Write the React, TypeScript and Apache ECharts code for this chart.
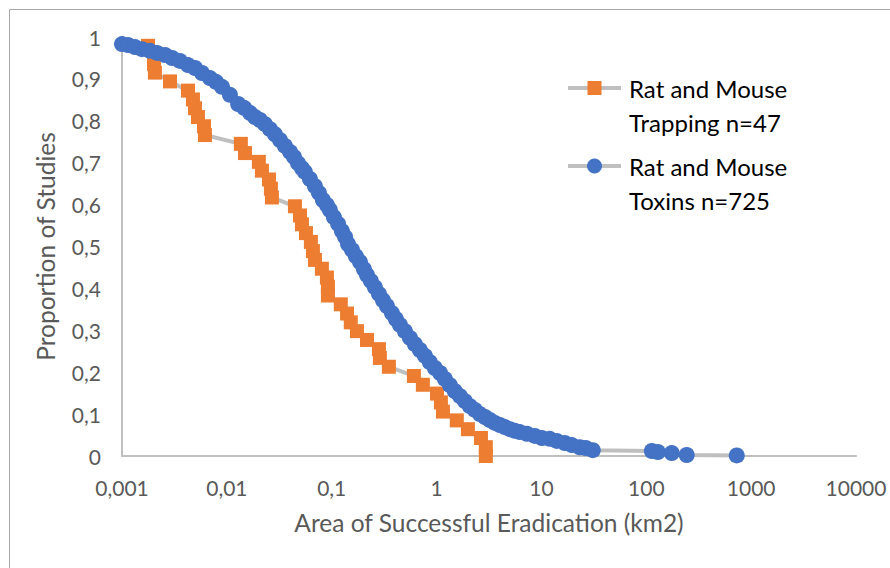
import React, { useEffect, useRef } from "react";
import * as echarts from "echarts";

// ---- Data ----
const seriesNames = ["Rat and Mouse Trapping n=47", "Rat and Mouse Toxins n=725"];
const legendLines = [
  ["Rat and Mouse", "Trapping n=47"],
  ["Rat and Mouse", "Toxins n=725"],
];

const trappingArea = [
  0.00177, 0.00202, 0.00202, 0.00206, 0.00287, 0.00426, 0.00475, 0.00497, 0.0053, 0.00605,
  0.00618, 0.0136, 0.0149, 0.0202, 0.0216, 0.0252, 0.0263, 0.0269, 0.0446, 0.0498,
  0.052, 0.0568, 0.0633, 0.0662, 0.0692, 0.0806, 0.09, 0.092, 0.092, 0.122,
  0.14, 0.152, 0.174, 0.217, 0.282, 0.288, 0.351, 0.608, 0.74, 1.01,
  1.1, 1.15, 1.56, 1.99, 2.65, 2.95, 2.95,
];
const trappingProportion = [
  0.979, 0.957, 0.936, 0.915, 0.894, 0.872, 0.851, 0.83, 0.809, 0.787,
  0.766, 0.745, 0.723, 0.702, 0.681, 0.66, 0.638, 0.617, 0.596, 0.574,
  0.553, 0.532, 0.511, 0.489, 0.468, 0.447, 0.426, 0.404, 0.383, 0.362,
  0.34, 0.319, 0.298, 0.277, 0.255, 0.234, 0.213, 0.191, 0.17, 0.149,
  0.128, 0.106, 0.085, 0.064, 0.043, 0.021, 0.0,
];

const toxinsArea = [
  0.001, 0.00114, 0.00133, 0.00155, 0.00185, 0.00216, 0.00257, 0.003, 0.00357, 0.00426,
  0.00497, 0.00579, 0.0069, 0.00787, 0.00898, 0.0107, 0.0128, 0.0146, 0.0166, 0.0185,
  0.0207, 0.0231, 0.0258, 0.0287, 0.0321, 0.0358, 0.04, 0.0436, 0.0476, 0.052,
  0.0555, 0.062, 0.0692, 0.0755, 0.0824, 0.09, 0.0961, 0.105, 0.115, 0.125,
  0.134, 0.143, 0.156, 0.17, 0.186, 0.203, 0.217, 0.236, 0.258, 0.282,
  0.308, 0.336, 0.375, 0.409, 0.447, 0.499, 0.557, 0.621, 0.693, 0.774,
  0.863, 0.963, 1.08, 1.2, 1.34, 1.49, 1.67, 1.86, 2.08, 2.32,
  2.59, 2.89, 3.22, 3.6, 4.01, 4.48, 5.0, 5.58, 6.22, 7.26,
  8.65, 10.1, 12.0, 14.0, 16.7, 19.5, 23.2, 26.5, 30.9, 113,
  129, 175, 243, 729,
];
const toxinsProportion = [
  0.983, 0.981, 0.976, 0.971, 0.967, 0.962, 0.957, 0.95, 0.943, 0.933,
  0.926, 0.914, 0.902, 0.893, 0.881, 0.862, 0.84, 0.831, 0.819, 0.809,
  0.802, 0.792, 0.78, 0.768, 0.754, 0.74, 0.726, 0.714, 0.699, 0.687,
  0.678, 0.661, 0.644, 0.628, 0.611, 0.599, 0.587, 0.57, 0.554, 0.537,
  0.523, 0.506, 0.492, 0.477, 0.463, 0.446, 0.432, 0.418, 0.403, 0.387,
  0.372, 0.358, 0.341, 0.327, 0.313, 0.298, 0.282, 0.267, 0.253, 0.239,
  0.224, 0.21, 0.198, 0.184, 0.169, 0.155, 0.143, 0.131, 0.119, 0.11,
  0.1, 0.093, 0.086, 0.079, 0.074, 0.069, 0.064, 0.06, 0.057, 0.053,
  0.048, 0.043, 0.041, 0.036, 0.031, 0.026, 0.021, 0.019, 0.014, 0.012,
  0.0095, 0.007, 0.0024, 0.0014,
];

const xTickLabels = ["0,001", "0,01", "0,1", "1", "10", "100", "1000", "10000"];
const yTickLabels = ["0", "0,1", "0,2", "0,3", "0,4", "0,5", "0,6", "0,7", "0,8", "0,9", "1"];
const xAxisTitle = "Area of Successful Eradication (km2)";
const yAxisTitle = "Proportion of Studies";

// ---- Styles ----
const FONT = "Lato";
const ORANGE = "#ED7D31";
const BLUE = "#4472C4";
const LINE_GRAY = "#BFBFBF";
const TEXT_GRAY = "#595959";

export default function App() {
  const ref = useRef<HTMLDivElement>(null);

  useEffect(() => {
    if (!ref.current) return;
    const chart = echarts.init(ref.current, undefined, { renderer: "svg" });

    const trappingData = trappingArea.map((a, i) => [a, trappingProportion[i]]);
    const toxinsData = toxinsArea.map((a, i) => [a, toxinsProportion[i]]);

    const legendX = 568;
    const legendY = [88, 166];

    const option: any = {
      animation: false,
      backgroundColor: "#ffffff",
      textStyle: { fontFamily: FONT },
      grid: { left: 122, right: 34, top: 37, bottom: 112, containLabel: false },
      xAxis: {
        type: "log",
        logBase: 10,
        min: 0.001,
        max: 10000,
        name: xAxisTitle,
        nameLocation: "middle",
        nameGap: 54,
        nameTextStyle: { color: TEXT_GRAY, fontSize: 24.5, fontFamily: FONT },
        axisLine: { show: true, lineStyle: { color: LINE_GRAY, width: 2 } },
        axisTick: { show: false },
        splitLine: { show: false },
        minorTick: { show: false },
        axisLabel: {
          color: TEXT_GRAY,
          fontSize: 21,
          fontFamily: FONT,
          margin: 21,
          formatter: (v: number) => {
            const e = Math.round(Math.log10(v));
            return xTickLabels[e + 3] ?? "";
          },
        },
      },
      yAxis: {
        type: "value",
        min: 0,
        max: 1,
        interval: 0.1,
        name: yAxisTitle,
        nameLocation: "middle",
        nameGap: 64,
        nameRotate: 90,
        nameTextStyle: { color: TEXT_GRAY, fontSize: 24.5, fontFamily: FONT },
        axisLine: { show: true, lineStyle: { color: LINE_GRAY, width: 2 } },
        axisTick: { show: false },
        splitLine: { show: false },
        axisLabel: {
          color: TEXT_GRAY,
          fontSize: 21,
          fontFamily: FONT,
          margin: 21,
          formatter: (v: number) => yTickLabels[Math.round(v * 10)] ?? "",
        },
      },
      legend: { show: false },
      series: [
        {
          type: "line",
          name: seriesNames[0],
          data: trappingData,
          symbol: "rect",
          symbolSize: 14,
          clip: false,
          itemStyle: { color: ORANGE },
          lineStyle: { color: LINE_GRAY, width: 4 },
          z: 2,
        },
        {
          type: "line",
          name: seriesNames[1],
          data: toxinsData,
          symbol: "circle",
          symbolSize: 16,
          clip: false,
          itemStyle: { color: BLUE },
          lineStyle: { color: LINE_GRAY, width: 4 },
          z: 3,
        },
      ],
      graphic: [
        {
          type: "rect",
          silent: true,
          shape: { x: 9.5, y: 9.5, width: 1000, height: 1000 },
          style: { fill: "none", stroke: "#A6A6A6", lineWidth: 1 },
        },
        // legend item 1
        {
          type: "line",
          shape: { x1: legendX, y1: legendY[0], x2: legendX + 53, y2: legendY[0] },
          style: { stroke: LINE_GRAY, lineWidth: 4 },
        },
        {
          type: "rect",
          shape: { x: legendX + 19.5, y: legendY[0] - 7, width: 14, height: 14 },
          style: { fill: ORANGE },
        },
        {
          type: "text",
          x: legendX + 61,
          y: legendY[0] - 17,
          style: {
            text: legendLines[0].join("\n"),
            fill: "#000000",
            fontSize: 24,
            fontFamily: FONT,
            lineHeight: 34,
            verticalAlign: "top",
          },
        },
        // legend item 2
        {
          type: "line",
          shape: { x1: legendX, y1: legendY[1], x2: legendX + 53, y2: legendY[1] },
          style: { stroke: LINE_GRAY, lineWidth: 4 },
        },
        {
          type: "circle",
          shape: { cx: legendX + 26.5, cy: legendY[1], r: 7.5 },
          style: { fill: BLUE },
        },
        {
          type: "text",
          x: legendX + 61,
          y: legendY[1] - 17,
          style: {
            text: legendLines[1].join("\n"),
            fill: "#000000",
            fontSize: 24,
            fontFamily: FONT,
            lineHeight: 34,
            verticalAlign: "top",
          },
        },
      ],
    };

    chart.setOption(option);
    return () => chart.dispose();
  }, []);

  return (
    <div
      style={{ position: "fixed", left: 0, top: 0, width: 890, height: 568, background: "#fff" }}
    >
      <div ref={ref} style={{ width: 890, height: 568 }} />
    </div>
  );
}
